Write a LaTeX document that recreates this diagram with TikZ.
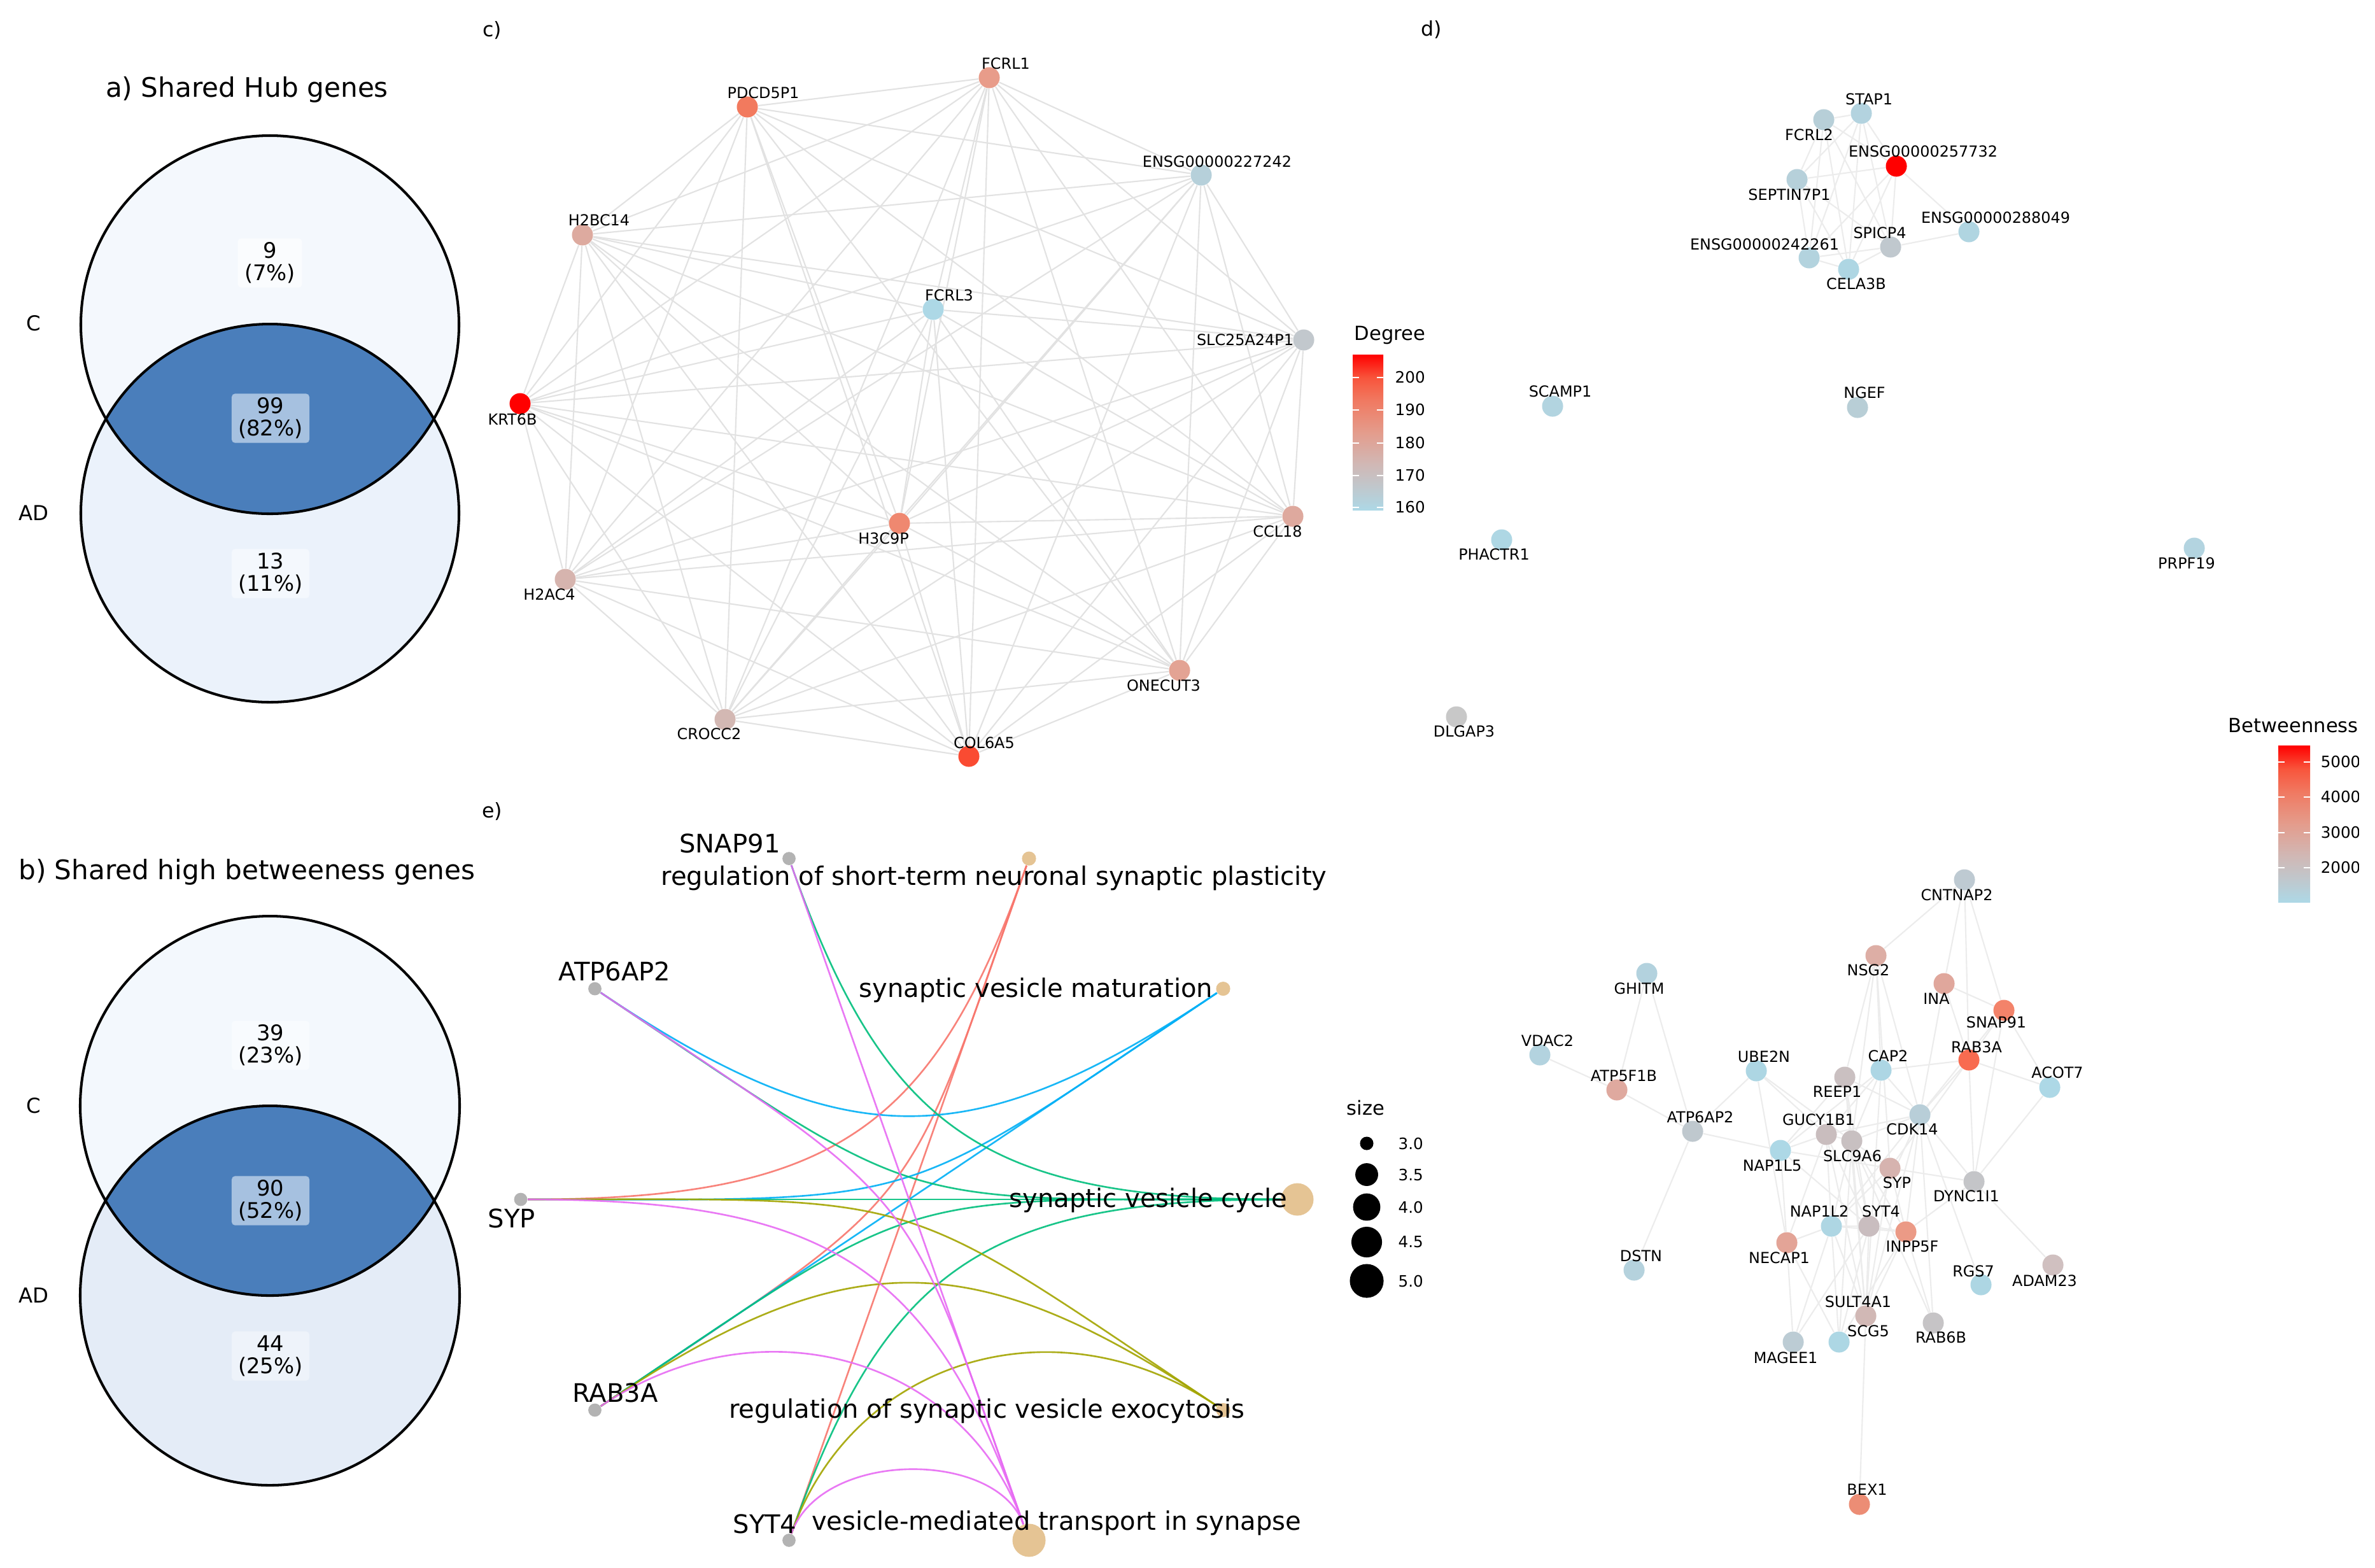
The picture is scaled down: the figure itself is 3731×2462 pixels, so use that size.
\documentclass[tikz,border=0pt]{standalone}
\usepackage{fontspec}
\setmainfont{DejaVu Sans}
\usetikzlibrary{calc}
\usetikzlibrary{positioning}
\definecolor{vennTopA}{HTML}{F4F8FD}
\definecolor{vennBotA}{HTML}{EBF2FB}
\definecolor{vennTopB}{HTML}{F3F8FD}
\definecolor{vennBotB}{HTML}{E4ECF7}
\definecolor{vennMid}{HTML}{4A7EBB}
\definecolor{boxTopA}{HTML}{FAFCFE}
\definecolor{boxBotA}{HTML}{F4F8FD}
\definecolor{boxTopB}{HTML}{F8FBFE}
\definecolor{boxBotB}{HTML}{EEF3FA}
\definecolor{boxMid}{HTML}{A6C1E0}
\definecolor{hubEdge}{HTML}{E2E2E2}
\definecolor{betwEdge}{HTML}{ECECEC}
\definecolor{geneGrey}{HTML}{B3B3B3}
\definecolor{termTan}{HTML}{E5C494}
\definecolor{termRed}{HTML}{F8766D}
\definecolor{termOlive}{HTML}{A3A500}
\definecolor{termGreen}{HTML}{00BF7D}
\definecolor{termBlue}{HTML}{00B0F6}
\definecolor{termPink}{HTML}{E76BF3}
\definecolor{barLow}{HTML}{ADD8E6}
\definecolor{barA}{HTML}{C0C7CC}
\definecolor{barB}{HTML}{D1B7B4}
\definecolor{barC}{HTML}{E49C8C}
\definecolor{barD}{HTML}{F07A62}
\definecolor{barE}{HTML}{F8553C}
\definecolor{barHigh}{HTML}{FF0000}
\pgfdeclareverticalshading{scorebar}{100bp}{color(0bp)=(barLow); color(25bp)=(barLow); color(32.5bp)=(barA); color(40bp)=(barB); color(50bp)=(barC); color(60bp)=(barD); color(67.5bp)=(barE); color(75bp)=(barHigh); color(100bp)=(barHigh)}
\pgfdeclarelayer{edge_bg}
\pgfsetlayers{edge_bg,main}
\tikzset{
    venntitle/.style={font=\fontsize{12}{14}\selectfont},
    setlabel/.style={font=\fontsize{9.2}{11}\selectfont},
    countbox/.style={rounded corners=1.5pt, align=center, minimum height=22pt, font=\fontsize{9.6}{10}\selectfont},
    vennline/.style={line width=1.15pt},
    panelletter/.style={font=\fontsize{9}{11}\selectfont},
    netdot/.style={circle, minimum size=9.4pt},
    netlabel/.style={font=\fontsize{6.8}{8}\selectfont},
    hubedge/.style={draw=hubEdge, line width=0.6pt},
    betwedge/.style={draw=betwEdge, line width=0.6pt},
    legtitle/.style={font=\fontsize{8.7}{10}\selectfont, anchor=west},
    ticklabel/.style={font=\fontsize{7}{8}\selectfont, anchor=west},
    bartick/.style={draw=white, line width=0.35pt},
    genedot/.style={circle, fill=geneGrey, minimum size=5.9pt},
    termdot/.style={circle, fill=termTan},
    termlabel/.style={font=\fontsize{11.4}{13}\selectfont},
    termedge/.style={line width=0.75pt, draw opacity=0.9},
    sizedot/.style={circle, fill=black},
}
\newcommand{\netnode}[5]{
    \definecolor{#1col}{HTML}{#3}
    \node (#1) [netdot, fill=#1col] at (#2) {};
    \node (#1_lbl) [netlabel] at ($(#1)+(#5)$) {#4};
}
\newcommand{\cnetarc}[4]{
    \draw [termedge, draw=#3] (#1) .. controls ($(#1)!#4!(ctr)$) and ($(#2)!#4!(ctr)$) .. (#2);
}
\begin{document}
\begin{tikzpicture}[x=0.01cm, y=-0.01cm, inner sep=0pt]
    \useasboundingbox (0,0) rectangle (3731,2462);
    \begin{pgfonlayer}{edge_bg}
        \fill [white] (0,0) rectangle (3731,2462);
    \end{pgfonlayer}

    % a) venn
    \node (titleA) [venntitle] at (388,141) {a) Shared Hub genes};
    \fill [vennTopA] (424,510) circle [radius=297];
    \fill [vennBotA] (424,806) circle [radius=297];
    \begin{scope}
        \clip (424,510) circle [radius=297];
        \fill [vennMid] (424,806) circle [radius=297];
    \end{scope}
    \draw [vennline] (424,510) circle [radius=297];
    \draw [vennline] (424,806) circle [radius=297];
    \node (setCa) [setlabel] at (53,508) {C};
    \node (setADa) [setlabel] at (53,806) {AD};
    \node (onlyCa) [countbox, fill=boxTopA, minimum width=28.7pt] at (424,413) {9\\(7\%)};
    \node (bothA) [countbox, fill=boxMid, minimum width=34.7pt] at (425,657) {99\\(82\%)};
    \node (onlyADa) [countbox, fill=boxBotA, minimum width=34.7pt] at (425,901) {13\\(11\%)};

    % b) venn
    \node (titleB) [venntitle] at (388,1370) {b) Shared high betweeness genes};
    \fill [vennTopB] (424,1737) circle [radius=298];
    \fill [vennBotB] (424,2035) circle [radius=298];
    \begin{scope}
        \clip (424,1737) circle [radius=298];
        \fill [vennMid] (424,2035) circle [radius=298];
    \end{scope}
    \draw [vennline] (424,1737) circle [radius=298];
    \draw [vennline] (424,2035) circle [radius=298];
    \node (setCb) [setlabel] at (53,1737) {C};
    \node (setADb) [setlabel] at (53,2035) {AD};
    \node (onlyCb) [countbox, fill=boxTopB, minimum width=34.7pt] at (425,1642) {39\\(23\%)};
    \node (bothB) [countbox, fill=boxMid, minimum width=34.7pt] at (425,1886) {90\\(52\%)};
    \node (onlyADb) [countbox, fill=boxBotB, minimum width=34.7pt] at (425,2130) {44\\(25\%)};

    \node (letterC) [panelletter] at (773,48) {c)};
    \node (letterD) [panelletter] at (2249,47) {d)};
    \node (letterE) [panelletter] at (773,1275) {e)};

    % c) hub network
    \netnode{fcrl1}{1554,122}{E89C8A}{FCRL1}{26,-22}
    \netnode{pdcd5p1}{1174,168}{F27A5E}{PDCD5P1}{25,-22}
    \netnode{ensg227242}{1887,275}{B6D0DA}{ENSG00000227242}{25,-21}
    \netnode{h2bc14}{915,369}{DDAA9F}{H2BC14}{26,-23}
    \netnode{fcrl3}{1466,486}{ADD8E6}{FCRL3}{25,-22}
    \netnode{slc25a24p1}{2048,534}{C2C8CD}{SLC25A24P1}{-92,0}
    \netnode{krt6b}{817,634}{FF0000}{KRT6B}{-12,25}
    \netnode{h3c9p}{1413,822}{EF8870}{H3C9P}{-25,24}
    \netnode{ccl18}{2031,811}{DEA99E}{CCL18}{-24,24}
    \netnode{h2ac4}{888,910}{D6B4AE}{H2AC4}{-25,24}
    \netnode{onecut3}{1853,1053}{E3A394}{ONECUT3}{-25,24}
    \netnode{crocc2}{1139,1130}{D3B8B3}{CROCC2}{-25,23}
    \netnode{col6a5}{1522,1188}{FA4B32}{COL6A5}{24,-21}

    \begin{pgfonlayer}{edge_bg}
        \foreach \src/\dsts in {fcrl1/{pdcd5p1,ensg227242,h2bc14,fcrl3,slc25a24p1,krt6b,h3c9p,ccl18,h2ac4,onecut3,crocc2,col6a5},
            pdcd5p1/{ensg227242,h2bc14,slc25a24p1,krt6b,h3c9p,ccl18,h2ac4,onecut3,crocc2,col6a5},
            ensg227242/{h2bc14,slc25a24p1,krt6b,h3c9p,ccl18,h2ac4,onecut3,crocc2,col6a5},
            h2bc14/{fcrl3,slc25a24p1,krt6b,h3c9p,ccl18,h2ac4,onecut3,crocc2,col6a5},
            fcrl3/{slc25a24p1,krt6b,h3c9p,ccl18,h2ac4,onecut3,crocc2,col6a5},
            slc25a24p1/{krt6b,h3c9p,ccl18,h2ac4,onecut3,crocc2,col6a5},
            krt6b/{h3c9p,ccl18,h2ac4,onecut3,crocc2,col6a5},
            h3c9p/{ccl18,h2ac4,onecut3,crocc2,col6a5},
            ccl18/{h2ac4,onecut3,crocc2,col6a5},
            h2ac4/{onecut3,crocc2,col6a5},
            onecut3/{crocc2,col6a5},
            crocc2/{col6a5}}
            \foreach \dst in \dsts
                \draw [hubedge] (\src) -- (\dst);
    \end{pgfonlayer}

    % degree legend
    \node (deg_title) [legtitle] at (2127,527) {Degree};
    \shade [shading=scorebar] (2125,557) rectangle (2173,801);
    \foreach \y/\val in {593/200,644/190,696/180,747/170,797/160} {
        \draw [bartick] (2125,\y) -- (2135,\y);
        \draw [bartick] (2163,\y) -- (2173,\y);
        \node (deg_\val) [ticklabel] at (2191,\y) {\val};
    }

    % d) betweenness network, small cluster and single genes
    \netnode{stap1}{2924,178}{B3D3DF}{STAP1}{12,-22}
    \netnode{fcrl2}{2865,188}{B7CFD8}{FCRL2}{-23,24}
    \netnode{ensg257732}{2979,261}{FF0000}{ENSG00000257732}{42,-23}
    \netnode{septin7p1}{2823,282}{B6D0DA}{SEPTIN7P1}{-12,24}
    \netnode{ensg288049}{3093,364}{B0D5E1}{ENSG00000288049}{42,-22}
    \netnode{spicp4}{2970,388}{C0C8CE}{SPICP4}{-17,-22}
    \netnode{ensg242261}{2842,405}{B3D3DE}{ENSG00000242261}{-70,-21}
    \netnode{cela3b}{2904,423}{AED6E3}{CELA3B}{12,23}
    \netnode{scamp1}{2439,638}{B2D4E0}{SCAMP1}{12,-23}
    \netnode{ngef}{2918,640}{B8CED6}{NGEF}{11,-23}
    \netnode{phactr1}{2359,848}{AED7E4}{PHACTR1}{-12,23}
    \netnode{prpf19}{3447,861}{B3D4E0}{PRPF19}{-12,24}
    \netnode{dlgap3}{2288,1126}{C8C8C8}{DLGAP3}{12,23}

    % d) betweenness network, main component
    \netnode{cntnap2}{3086,1382}{BECAD2}{CNTNAP2}{-12,24}
    \netnode{nsg2}{2947,1501}{DDAEA5}{NSG2}{-12,23}
    \netnode{ghitm}{2587,1529}{B3D2DE}{GHITM}{-12,24}
    \netnode{ina}{3054,1545}{E0A79C}{INA}{-12,24}
    \netnode{snap91}{3148,1587}{F3836A}{SNAP91}{-12,19}
    \netnode{vdac2}{2419,1657}{B3D3DF}{VDAC2}{12,-22}
    \netnode{rab3a}{3093,1665}{F86B50}{RAB3A}{12,-20}
    \netnode{ube2n}{2759,1682}{ADD6E3}{UBE2N}{12,-22}
    \netnode{cap2}{2955,1681}{ADD6E4}{CAP2}{11,-22}
    \netnode{reep1}{2898,1692}{CAC0C1}{REEP1}{-12,23}
    \netnode{acot7}{3220,1708}{ADD8E6}{ACOT7}{12,-23}
    \netnode{atp5f1b}{2540,1712}{DFA99F}{ATP5F1B}{11,-22}
    \netnode{cdk14}{3016,1751}{B8CED8}{CDK14}{-12,23}
    \netnode{atp6ap2}{2659,1777}{BFC8CE}{ATP6AP2}{12,-22}
    \netnode{gucy1b1}{2869,1782}{C9BDBE}{GUCY1B1}{-12,-23}
    \netnode{slc9a6}{2909,1792}{C8C0C1}{SLC9A6}{1,24}
    \netnode{nap1l5}{2797,1807}{ADD8E6}{NAP1L5}{-13,24}
    \netnode{syp}{2969,1835}{D6B3AF}{SYP}{11,23}
    \netnode{dync1i1}{3101,1856}{C4C5C8}{DYNC1I1}{-12,23}
    \netnode{nap1l2}{2877,1926}{AED6E3}{NAP1L2}{-19,-23}
    \netnode{syt4}{2936,1926}{C9BDBF}{SYT4}{19,-23}
    \netnode{inpp5f}{2994,1935}{EB9A86}{INPP5F}{10,23}
    \netnode{necap1}{2807,1952}{E3A497}{NECAP1}{-12,24}
    \netnode{dstn}{2567,1995}{B5D2DD}{DSTN}{11,-22}
    \netnode{rgs7}{3112,2018}{ADD6E3}{RGS7}{-12,-21}
    \netnode{adam23}{3225,1987}{D0C0C0}{ADAM23}{-13,25}
    \netnode{sult4a1}{2931,2067}{D1B8B5}{SULT4A1}{-12,-22}
    \netnode{rab6b}{3037,2078}{C6C4C6}{RAB6B}{12,23}
    \netnode{scg5}{2889,2108}{ADD7E4}{SCG5}{46,-17}
    \netnode{magee1}{2817,2108}{BCCCD4}{MAGEE1}{-12,25}
    \netnode{bex1}{2921,2363}{EC8D75}{BEX1}{12,-23}

    \begin{pgfonlayer}{edge_bg}
        \foreach \src/\dsts in {fcrl2/{stap1,ensg257732,septin7p1,ensg242261,cela3b,spicp4},
            stap1/{septin7p1,ensg257732,spicp4,cela3b,ensg242261},
            septin7p1/{ensg257732,ensg242261,spicp4,cela3b},
            ensg257732/{ensg288049,spicp4,cela3b,ensg242261},
            spicp4/{ensg288049,ensg242261,cela3b},
            ensg242261/{cela3b},
            cntnap2/{nsg2,ina,snap91,rab3a},
            nsg2/{reep1,cap2,cdk14,slc9a6,syp},
            ghitm/{atp5f1b,atp6ap2},
            vdac2/{atp5f1b},
            atp5f1b/{atp6ap2},
            atp6ap2/{dstn,ube2n,nap1l5},
            ina/{snap91,rab3a,cdk14},
            snap91/{rab3a,acot7,dync1i1,cdk14},
            rab3a/{cap2,acot7,dync1i1,cdk14,syp},
            acot7/{dync1i1},
            ube2n/{necap1,gucy1b1,slc9a6},
            cap2/{gucy1b1,cdk14,nap1l5,slc9a6,sult4a1},
            reep1/{cdk14,nap1l5,syt4,sult4a1,slc9a6},
            cdk14/{dync1i1,gucy1b1,slc9a6,syt4,inpp5f,nap1l2,rab6b,rgs7,sult4a1},
            gucy1b1/{slc9a6,nap1l5,necap1,syt4,nap1l2,sult4a1},
            slc9a6/{syt4,nap1l2,inpp5f,sult4a1,syp,scg5,rab6b},
            nap1l5/{necap1,syp,syt4},
            syp/{dync1i1,nap1l2,sult4a1,inpp5f},
            dync1i1/{adam23,inpp5f},
            inpp5f/{rab6b,sult4a1,nap1l2,syt4,scg5},
            necap1/{nap1l2,magee1,scg5},
            nap1l2/{syt4,scg5,magee1,sult4a1},
            syt4/{sult4a1,scg5,magee1},
            sult4a1/{bex1}}
            \foreach \dst in \dsts
                \draw [betwedge] (\src) -- (\dst);
    \end{pgfonlayer}

    % betweenness legend
    \node (betw_title) [legtitle] at (3500,1140) {Betweenness};
    \shade [shading=scorebar] (3579,1171) rectangle (3629,1417);
    \begin{scope}
        \clip (3400,1100) rectangle (3705,1450);
        \foreach \y/\val in {1197/5000,1252/4000,1308/3000,1363/2000} {
            \draw [bartick] (3579,\y) -- (3589,\y);
            \draw [bartick] (3619,\y) -- (3629,\y);
            \node (betw_\val) [ticklabel] at (3645,\y) {\val};
        }
    \end{scope}

    % e) gene-concept network
    \coordinate (ctr) at (1428,1884);
    \foreach \nm/\ang in {syp/180, atp6ap2/216, snap91/252, syt4/108, rab3a/144}
        \node (e_\nm) [genedot] at ($(ctr)+(\ang:610 and 563)$) {};
    \node (e_plast) [termdot, minimum size=6.3pt] at ($(ctr)+(288:610 and 563)$) {};
    \node (e_matur) [termdot, minimum size=6.3pt] at ($(ctr)+(324:610 and 563)$) {};
    \node (e_cycle) [termdot, minimum size=14.5pt] at ($(ctr)+(0:610 and 563)$) {};
    \node (e_exo) [termdot, minimum size=6.3pt] at ($(ctr)+(36:610 and 563)$) {};
    \node (e_trans) [termdot, minimum size=14.8pt] at ($(ctr)+(72:610 and 563)$) {};

    \begin{pgfonlayer}{edge_bg}
        \cnetarc{e_syp}{e_plast}{termRed}{0.8}
        \cnetarc{e_rab3a}{e_plast}{termRed}{1.067}
        \cnetarc{e_syt4}{e_plast}{termRed}{0.5}
        \cnetarc{e_atp6ap2}{e_matur}{termBlue}{0.8}
        \cnetarc{e_syp}{e_matur}{termBlue}{1.067}
        \cnetarc{e_rab3a}{e_matur}{termBlue}{0.5}
        \cnetarc{e_snap91}{e_cycle}{termGreen}{0.8}
        \cnetarc{e_atp6ap2}{e_cycle}{termGreen}{1.067}
        \cnetarc{e_syp}{e_cycle}{termGreen}{0.5}
        \cnetarc{e_rab3a}{e_cycle}{termGreen}{1.067}
        \cnetarc{e_syt4}{e_cycle}{termGreen}{0.8}
        \cnetarc{e_syp}{e_exo}{termOlive}{1.067}
        \cnetarc{e_rab3a}{e_exo}{termOlive}{0.8}
        \cnetarc{e_syt4}{e_exo}{termOlive}{0.533}
        \cnetarc{e_snap91}{e_trans}{termPink}{0.5}
        \cnetarc{e_atp6ap2}{e_trans}{termPink}{1.067}
        \cnetarc{e_syp}{e_trans}{termPink}{0.8}
        \cnetarc{e_rab3a}{e_trans}{termPink}{0.533}
        \cnetarc{e_syt4}{e_trans}{termPink}{0.267}
    \end{pgfonlayer}

    \node (e_snap91_lbl) [termlabel] at ($(e_snap91)+(-93,-24)$) {SNAP91};
    \node (e_atp6ap2_lbl) [termlabel] at ($(e_atp6ap2)+(31,-27)$) {ATP6AP2};
    \node (e_syp_lbl) [termlabel] at ($(e_syp)+(-14,30)$) {SYP};
    \node (e_rab3a_lbl) [termlabel] at ($(e_rab3a)+(32,-27)$) {RAB3A};
    \node (e_syt4_lbl) [termlabel] at ($(e_syt4)+(-38,-26)$) {SYT4};
    \node (e_plast_lbl) [termlabel] at ($(e_plast)+(-55,31)$) {regulation of short-term neuronal synaptic plasticity};
    \node (e_matur_lbl) [termlabel] at ($(e_matur)+(-294,2)$) {synaptic vesicle maturation};
    \node (e_cycle_lbl) [termlabel] at ($(e_cycle)+(-234,1)$) {synaptic vesicle cycle};
    \node (e_exo_lbl) [termlabel] at ($(e_exo)+(-371,1)$) {regulation of synaptic vesicle exocytosis};
    \node (e_trans_lbl) [termlabel] at ($(e_trans)+(43,-27)$) {vesicle-mediated transport in synapse};

    % size legend
    \node (size_title) [legtitle] at (2115,1740) {size};
    \foreach \y/\d/\val [count=\k] in {1796/6.0pt/3.0, 1845/10.2pt/3.5, 1896/12.2pt/4.0, 1951/13.7pt/4.5, 2012/15.1pt/5.0} {
        \node (size_\k) [sizedot, minimum size=\d] at (2147,\y) {};
        \node (size_\k_lbl) [ticklabel] at (2196,\y) {\val};
    }
\end{tikzpicture}
\end{document}
